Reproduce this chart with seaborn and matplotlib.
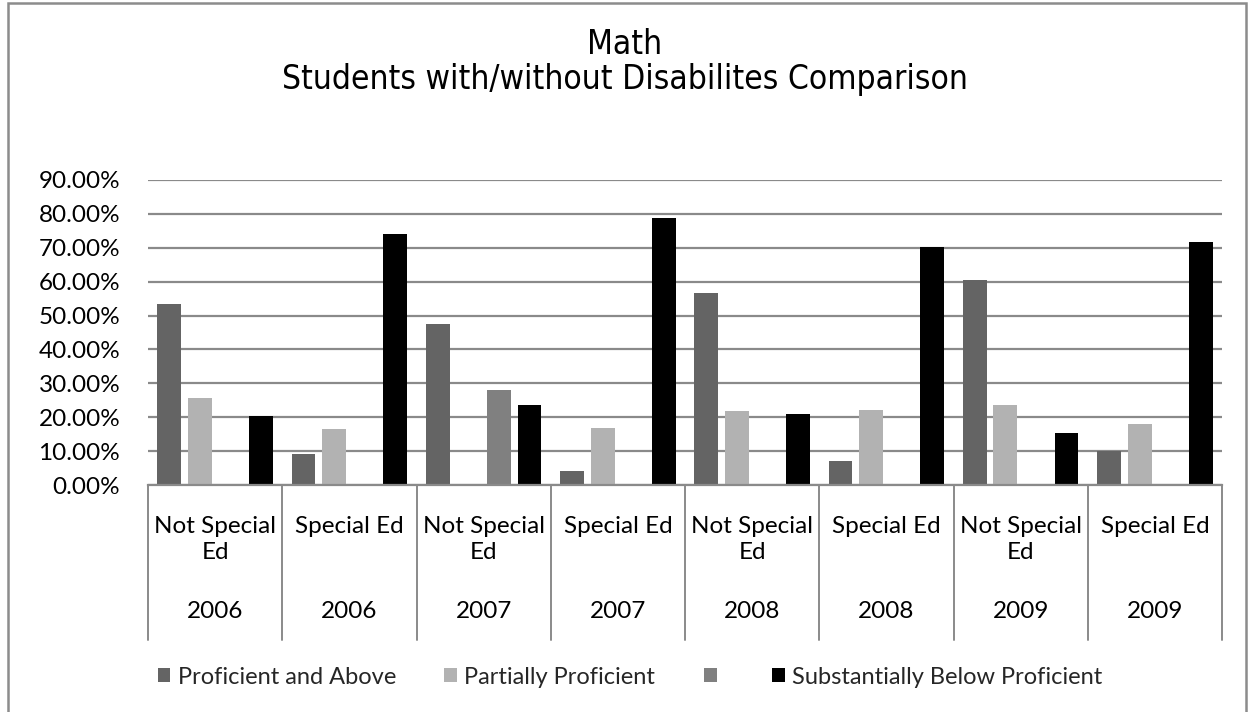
import matplotlib
matplotlib.use("Agg")
import matplotlib.pyplot as plt
import matplotlib.transforms as mtransforms
from matplotlib.patches import Patch, Rectangle
from matplotlib.font_manager import FontProperties
import numpy as np
import pandas as pd
import seaborn as sns

# Category axis: inner level (group) and outer level (year)
groups = ["Not Special\nEd", "Special Ed"] * 4
years = ["2006", "2006", "2007", "2007", "2008", "2008", "2009", "2009"]

series_names = ["Proficient and Above", "Partially Proficient", "",
                "Substantially Below Proficient"]
proficient = [53.5, 9.1, 47.6, 4.0, 56.7, 7.1, 60.4, 9.9]
partially = [25.7, 16.4, np.nan, 16.8, 21.8, 22.0, 23.6, 18.1]
unlabeled = [np.nan, np.nan, 28.0, np.nan, np.nan, np.nan, np.nan, np.nan]
below = [20.3, 74.1, 23.6, 78.7, 21.0, 70.3, 15.4, 71.6]

colors = ["#646464", "#b2b2b2", "#808080", "#000000"]

ticks_y = [0, 10, 20, 30, 40, 50, 60, 70, 80, 90]

slots = [str(i) for i in range(len(groups))]
rows = []
for name, vals in zip(series_names, [proficient, partially, unlabeled, below]):
    for s, v in zip(slots, vals):
        rows.append({"slot": s, "series": name, "value": v / 100.0})
df = pd.DataFrame(rows)

sns.set_style("white")
plt.rcParams["font.family"] = ["Lato", "DejaVu Sans"]

W, H = 1249, 712
fig = plt.figure(figsize=(W / 100, H / 100), dpi=100)
ax = fig.add_axes([148 / W, 1 - 485 / H, (1222 - 148) / W, (485 - 180) / H])

sns.barplot(data=df, x="slot", y="value", hue="series", order=slots,
            hue_order=series_names, palette=colors, width=0.91, gap=0.22,
            linewidth=0, legend=False, ax=ax, errorbar=None)

label_fs = 17.5
ax.set_ylim(0, 0.9)
ax.set_xlim(-0.5, len(slots) - 0.5)
ax.set_yticks([t / 100 for t in ticks_y])
ax.set_yticklabels([f"{t:.2f}%" for t in ticks_y], fontsize=label_fs, color="#000000")
ax.tick_params(axis="y", length=0, pad=20)
ax.set_xticks([])
ax.set_xlabel("")
ax.set_ylabel("")
ax.yaxis.grid(True, color="#8a8a8a", linewidth=1.6)
ax.set_axisbelow(True)
for side in ["left", "right", "top"]:
    ax.spines[side].set_visible(False)
ax.spines["bottom"].set_color("#8a8a8a")
ax.spines["bottom"].set_linewidth(1.6)

# Two-level category labels with separators
trans = mtransforms.blended_transform_factory(ax.transData, ax.transAxes)
ax_h = 485 - 180
def frac(py):
    return -(py - 485) / ax_h

for b in np.arange(-0.5, len(slots), 1.0):
    ax.plot([b, b], [0, frac(640)], transform=trans, color="#8a8a8a",
            linewidth=1.4, clip_on=False)
for i, (g, yv) in enumerate(zip(groups, years)):
    ax.text(i, frac(516), g, transform=trans, ha="center", va="top",
            fontsize=label_fs, color="#000000", linespacing=1.3)
    ax.text(i, frac(612), yv, transform=trans, ha="center", va="center",
            fontsize=label_fs, color="#000000")

# Title
title_font = FontProperties(family="DejaVu Sans", stretch="condensed", size=24)
fig.text(0.5, 1 - 44 / H, "Math", ha="center", va="center",
         fontproperties=title_font, color="#000000")
fig.text(0.5, 1 - 80 / H, "Students with/without Disabilites Comparison",
         ha="center", va="center", fontproperties=title_font, color="#000000")

# Legend
handles = [Patch(facecolor=c, edgecolor="none") for c in colors]
fig.legend(handles, series_names, loc="center", ncol=4,
           bbox_to_anchor=(630 / W, 1 - 677 / H), frameon=False,
           fontsize=17, handlelength=0.55, handleheight=0.55,
           handletextpad=0.3, columnspacing=2.05)

# Outer chart border
fig.patches.append(Rectangle((8 / W, -0.02), (1246 - 8) / W, 1.02 - 3 / H,
                             transform=fig.transFigure, fill=False,
                             edgecolor="#8c8c8c", linewidth=1.8))

fig.savefig("out.png", dpi=100)
